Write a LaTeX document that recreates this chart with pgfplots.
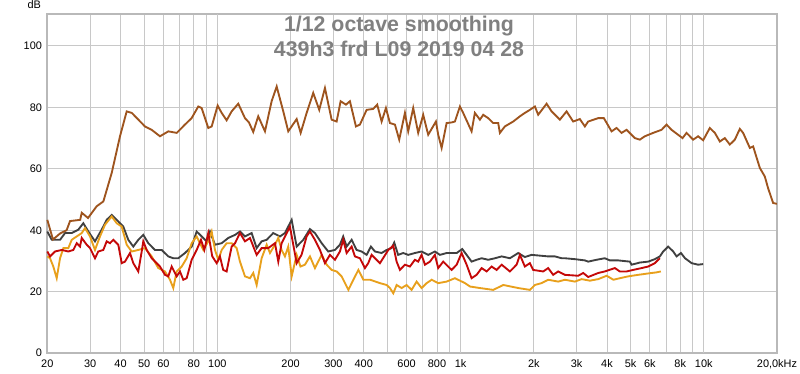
\documentclass[border=0pt]{standalone}
\usepackage{pgfplots}
\pgfplotsset{compat=1.18}
\usepackage{fontspec}
\setmainfont{Liberation Sans}
\definecolor{cbrown}{RGB}{158,84,30}
\definecolor{cgray}{RGB}{64,64,64}
\definecolor{cred}{RGB}{196,8,8}
\definecolor{corange}{RGB}{232,160,28}
\definecolor{gridc}{RGB}{200,200,200}
\definecolor{decc}{RGB}{128,128,128}
\definecolor{framec}{RGB}{185,185,185}
\definecolor{titlec}{RGB}{128,128,128}
\begin{document}
\begin{tikzpicture}
\begin{axis}[
  at={(0,0)}, anchor=south west,
  scale only axis, width=547.5pt, height=254.5pt,
  xmode=log, log basis x=10,
  xmin=20, xmax=20000, ymin=0, ymax=110.4,
  axis line style={draw=framec, line width=1.6pt},
  xtick={20,30,40,50,60,70,80,90,100,200,300,400,500,600,700,800,900,1000,2000,3000,4000,5000,6000,7000,8000,9000,10000,20000},
  xticklabels={20,30,40,50,60,,80,,100,200,300,400,,600,,800,,1k,2k,3k,4k,5k,6k,,8k,,10k,{20,0kHz}},
  ytick={0,20,40,60,80,100},
  extra x ticks={100,1000,10000},
  extra x tick labels={},
  extra x tick style={grid style={draw=decc, line width=0.75pt}},
  major tick length=0pt,
  grid=major,
  major grid style={draw=gridc, line width=0.75pt},
  tick label style={font=\fontsize{8.2}{9}\selectfont, text=black},
  /pgf/number format/assume math mode=true,
  xticklabel style={yshift=-1.5pt},
  yticklabel style={xshift=-0.5pt},
  clip=false,
  axis on top=false,
]
\addplot[cgray, line width=1.4pt] coordinates {
(20,39.6)(20.85,36.9)(22.56,36.9)(23.65,39.1)(25.2,39.1)(26.82,40.2)(28.12,42.3)(29.49,39.6)(31.41,36.4)(33.46,40.2)(35.09,43.4)(36.79,45)(38.58,43.4)(41.06,41.2)(43.04,36.9)(45.13,34.7)(47.32,36.9)(49.61,38.5)(52.02,35.8)(55.42,33.6)(59.04,33.6)(62.86,31.5)(65.9,30.9)(69.09,30.9)(73.62,32.6)(78.44,34.7)(82.23,39.6)(86.22,38)(90.4,36.4)(93.27,39.6)(97.8,35.3)(104.2,35.8)(110.9,37.5)(118.2,38.5)(123.9,39.6)(129.9,38)(138.4,39.1)(145.1,34.2)(152.1,36.4)(159.5,36.9)(169.8,39.1)(180.9,38)(189.7,39.1)(202.1,43.4)(211.9,34.7)(225.6,36.9)(240.3,40.4)(251.9,39.1)(268.5,35.8)(285.8,33.1)(304.5,33.6)(319.2,35.3)(329.3,38)(340.1,34.7)(356.6,36.9)(373.8,33.6)(391.9,33.1)(411,32)(427.9,34.7)(444.5,33.1)(473.7,32.6)(496.6,33.6)(520.7,34.2)(533.7,36)(553.9,32)(581,32.6)(609.3,32)(649.1,32.6)(691.6,33.1)(736.2,32)(784.4,33.1)(822.5,32)(876.3,32.6)(963.7,32.6)(1016,33.9)(1059,32)(1110,29.8)(1164,30.4)(1221,30.9)(1299,30.4)(1385,30.9)(1476,31.5)(1595,30.9)(1726,32.6)(1838,31.3)(1959,32)(2292,31.5)(2443,31.5)(2603,30.9)(2685,30.9)(2951,30.6)(3244,30.2)(3347,29.8)(3623,30.4)(3919,30.9)(4110,30.2)(4445,30.2)(4966,29.8)(5046,28.8)(5459,29.5)(5905,29.8)(6291,30.6)(6597,31.5)(6808,33.1)(7139,34.7)(7486,33.1)(7731,31.5)(8055,32.6)(8371,30.9)(8916,29.3)(9478,28.8)(9938,29)
};
\addplot[corange, line width=1.4pt] coordinates {
(20,31.5)(20.52,30.9)(21.17,28.2)(21.86,24.4)(22.56,30.9)(23.28,34.2)(24.4,34.2)(25.2,36.9)(26.42,38)(27.7,39.1)(28.58,40.7)(29.96,38)(31.41,33.6)(32.93,38)(34.53,41.8)(36.79,44.5)(38.58,42.3)(40.45,41.2)(42.4,35.3)(44.45,33.1)(47.32,33.6)(50.42,34.2)(53.72,31.5)(57.18,27.7)(60.93,26.6)(63.88,23.9)(65.9,21.2)(68.05,26.6)(71.36,28.2)(74.81,30.9)(78.44,35.8)(82.23,38)(87.54,33.6)(91.78,36.4)(94.78,39.6)(97.8,33.6)(100.9,30.4)(104.2,33.6)(109.2,35.8)(114.5,35.8)(120.1,34.2)(123.9,29.8)(129.9,25)(136.2,24.4)(140.5,26.1)(145.1,22.2)(152.1,30.9)(159.5,35.3)(164.6,32.6)(172.6,35.3)(178.1,37.5)(183.8,33.6)(189.7,31.5)(195.7,34.7)(202.1,25)(211.9,32)(219.6,28.2)(229.2,28.8)(240.3,31.5)(251.9,27.7)(268.5,32)(281.5,28.8)(295.1,27.1)(309.4,26.6)(324.4,25)(345.8,20.6)(362.5,23.9)(380.1,27.1)(398.6,23.9)(424.9,23.9)(466.2,22.8)(496.6,22.2)(512.4,21.2)(528.9,19.5)(545.9,22.2)(572.5,21.2)(600.1,22.2)(629.1,20.6)(659.7,23.3)(691.6,21.2)(725.4,22.8)(760.8,23.9)(809.2,22.8)(876.3,23.3)(947.8,24.4)(1043,22.8)(1093,21.7)(1201,21.2)(1362,20.6)(1499,22.2)(1726,21.2)(1928,20.6)(2021,22.2)(2152,22.8)(2292,23.9)(2519,23.3)(2685,23.9)(2951,23.3)(3146,24.1)(3401,23.6)(3679,24.1)(3988,25.2)(4249,23.9)(4517,24.4)(4886,25)(5372,25.5)(5724,25.8)(6097,26.1)(6390,26.3)(6660,26.6)
};
\addplot[cred, line width=1.4pt] coordinates {
(20,33.1)(20.52,31.5)(21.51,33.1)(22.93,33.6)(24.4,33.1)(25.58,33.6)(26.42,35.8)(27.26,34.7)(27.7,37.5)(29.04,35.3)(29.96,34.2)(31.41,30.9)(32.4,33.1)(33.97,33.6)(35.09,36.4)(36.2,35.8)(37.35,36.9)(39.16,35.3)(40.45,29.3)(41.72,29.8)(43.74,32.6)(45.13,29.3)(47.32,26.6)(48.87,33.1)(49.61,36.4)(51.24,33.6)(53.72,30.9)(58.1,28.2)(60.93,25.5)(62.86,25)(64.91,28.2)(68.05,25)(70.22,26.6)(72.45,23.9)(74.81,24.4)(78.44,30.4)(82.23,33.6)(85.66,36.9)(88.41,33.6)(91.78,39.1)(95.3,31.5)(99.4,29.3)(102.5,31.5)(105.7,27.1)(109.2,26.6)(114.5,34.7)(118.2,35.8)(123.9,39.1)(129.9,36.4)(136.2,37.5)(145.1,32)(152.1,34.2)(162,34.2)(172.6,35.8)(178.1,29.8)(183.8,35.8)(198.9,41.2)(211.9,29.3)(221.9,32)(232.9,38)(240.3,39.6)(251.9,36.9)(264.2,33.6)(277,29.3)(290.4,32)(304.5,30.4)(319.2,33.1)(329.3,36.9)(340.1,32.6)(356.6,34.7)(367.9,31.5)(385.7,30.9)(404.4,27.7)(417.3,29.3)(430.8,32)(466.2,29.3)(504.5,33.6)(528.9,35)(545.9,29.8)(563.4,27.1)(590.5,28.8)(619.1,28.2)(649.1,30.4)(669.7,29.8)(691.6,32)(713.9,28.8)(748.6,29.8)(784.4,32)(809.2,27.7)(848.4,29.8)(918.8,27.1)(963.7,28.8)(1010,32.6)(1059,28.8)(1110,24.4)(1164,25.5)(1221,27.7)(1280,26.6)(1342,28.2)(1406,27.1)(1476,28.8)(1595,26.6)(1700,28.8)(1754,32)(1838,28.2)(1928,29.3)(1989,27.1)(2186,26.6)(2292,27.7)(2403,25.5)(2519,26.6)(2685,25.5)(3045,25.2)(3193,26.1)(3347,24.8)(3679,26.1)(3919,26.6)(4308,27.7)(4517,26.6)(4813,26.6)(5124,27.1)(5549,27.7)(5905,28.2)(6291,29.3)(6597,30.9)
};
\addplot[cbrown, line width=1.4pt] coordinates {
(20,43.4)(21.1,37)(22.6,39)(24.0,40)(24.8,43)(27.3,43.4)(27.7,45.7)(29.4,44)(31.9,47.8)(34.0,49.4)(36.8,58.7)(39.8,70.6)(42.4,78.7)(44.5,78.2)(50.4,73.8)(53.7,72.7)(58.1,70.6)(62.9,72.2)(68.1,71.7)(73.6,74.4)(78.4,76.5)(83.5,80.3)(86.2,79.8)(91.8,73.3)(94.8,73.8)(100.3,80.6)(104.2,78.2)(109.2,75.8)(114.5,78.7)(121.9,81.2)(129.9,76.5)(134.9,75.1)(140.5,72)(147.3,77.1)(157,72.2)(167.2,82)(175.4,86.8)(186.7,78.7)(195.7,72.2)(211.9,76.2)(220.1,71.7)(232.9,78.2)(247.9,84.7)(262.4,79.2)(277,86.3)(295.1,76)(309.4,75.4)(321.3,82)(337.9,80.9)(350.9,82)(371.4,73.8)(385.7,74.4)(411,79.2)(437.4,79.5)(454.3,80.9)(473.7,75.4)(493.3,79.8)(512.4,74.9)(537.2,74.4)(559.5,69.5)(590.5,78.2)(609.3,72.2)(638.8,79.8)(669.7,71.7)(702.2,77.6)(736.2,71.1)(791.8,75.4)(809.2,71.1)(835.8,66.8)(876.3,74.9)(918.8,75.1)(947.8,75.4)(993.8,80.3)(1025,78.2)(1110,72.2)(1145,78.2)(1201,76)(1239,77.6)(1299,76.5)(1362,74.9)(1428,74.9)(1451,71.7)(1521,73.8)(1646,75.4)(1754,77.1)(1838,78.2)(1928,79.2)(2021,80.3)(2085,77.6)(2258,81.2)(2367,78.7)(2560,76)(2728,78.7)(2904,75.4)(3094,76.2)(3244,73.8)(3347,75.4)(3679,76.5)(3883,76.5)(4176,72.2)(4379,73.3)(4591,71.7)(4813,72.7)(5207,70)(5459,69.5)(5724,70.6)(6191,71.7)(6704,72.7)(7028,74.4)(7370,72.7)(8177,70)(8493,71.7)(9041,69.5)(9478,70.6)(9938,69.3)(10588,73.3)(11102,71.7)(11640,68.9)(12204,70)(12796,67.9)(13416,69.5)(14065,73)(14511,71.7)(15462,66.8)(15952,67.3)(16996,60.3)(17820,57.5)(18384,53.7)(19276,48.9)(19970,48.6)
};
\node[font=\fontsize{8.2}{9}\selectfont] at (rel axis cs:0,1) [xshift=-9.75pt, yshift=7pt] {dB};
\node[font={\bfseries\fontsize{16}{18}\selectfont}, text=titlec] at (rel axis cs:0.482,0.965) {1/12 octave smoothing};
\node[font={\bfseries\fontsize{16}{18}\selectfont}, text=titlec] at (rel axis cs:0.482,0.897) {439h3 frd L09 2019 04 28};
\end{axis}
\pgfresetboundingbox
\path[use as bounding box] (-35.5pt,-15.5pt) rectangle (564.75pt,265pt);
\end{tikzpicture}
\end{document}
